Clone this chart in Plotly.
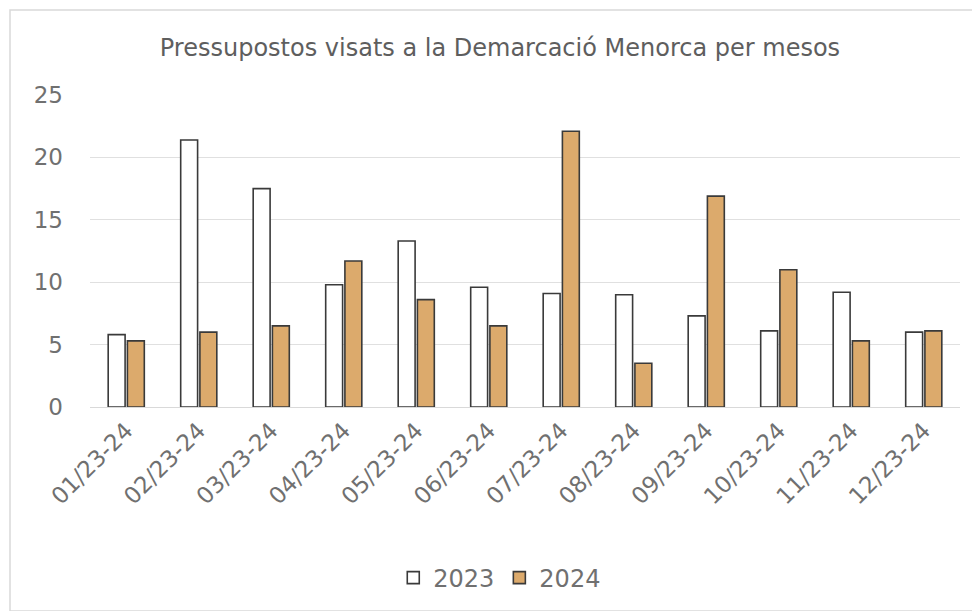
import plotly.graph_objects as go

categories = ["01/23-24", "02/23-24", "03/23-24", "04/23-24", "05/23-24", "06/23-24",
              "07/23-24", "08/23-24", "09/23-24", "10/23-24", "11/23-24", "12/23-24"]
values_2023 = [5.8, 21.4, 17.5, 9.8, 13.3, 9.6, 9.1, 9.0, 7.3, 6.1, 9.2, 6.0]
values_2024 = [5.3, 6.0, 6.5, 11.7, 8.6, 6.5, 22.1, 3.5, 16.9, 11.0, 5.3, 6.1]
series_names = ["2023", "2024"]
title_text = "Pressupostos visats a la Demarcació Menorca per mesos"

fig = go.Figure()
fig.add_trace(go.Bar(x=categories, y=values_2023, name=series_names[0],
                     marker=dict(color="#FFFFFF", line=dict(color="#3A3A3A", width=1.6))))
fig.add_trace(go.Bar(x=categories, y=values_2024, name=series_names[1],
                     marker=dict(color="#DCAA6C", line=dict(color="#3A3A3A", width=1.6))))

fig.update_layout(
    width=980, height=611,
    paper_bgcolor="white", plot_bgcolor="white",
    margin=dict(l=82, r=28, t=87, b=212),
    barmode="group", bargap=0.47, bargroupgap=0.12,
    title=dict(text=title_text, x=0.502, xanchor="center", y=0.9345, yanchor="middle",
               font=dict(family="DejaVu Sans", size=24, color="#5E5E5E")),
    font=dict(family="DejaVu Sans", color="#707070"),
    legend=dict(orientation="h", x=0.471, xanchor="center", y=-0.548, yanchor="middle",
                font=dict(size=24, color="#707070"), traceorder="normal",
                itemwidth=30),
    showlegend=True,
)
fig.update_xaxes(tickangle=-45, tickfont=dict(size=23, color="#707070"),
                 showline=True, linecolor="#D9D9D9", linewidth=1,
                 ticks="", showgrid=False, automargin=False)
fig.update_yaxes(range=[0, 25], dtick=5, tickfont=dict(size=23, color="#707070"),
                 showgrid=True, gridcolor="#E0E0E0", gridwidth=1.2,
                 zeroline=False, ticklabelstandoff=26, automargin=False)

fig.add_shape(type="rect", xref="paper", yref="paper",
              x0=(2 - 82) / 870, x1=(967 - 82) / 870, y0=(399 - 603) / 312, y1=(399 - 2) / 312,
              line=dict(color="#D9D9D9", width=1.5), fillcolor="rgba(0,0,0,0)", layer="below")

fig.write_html("out.html")
